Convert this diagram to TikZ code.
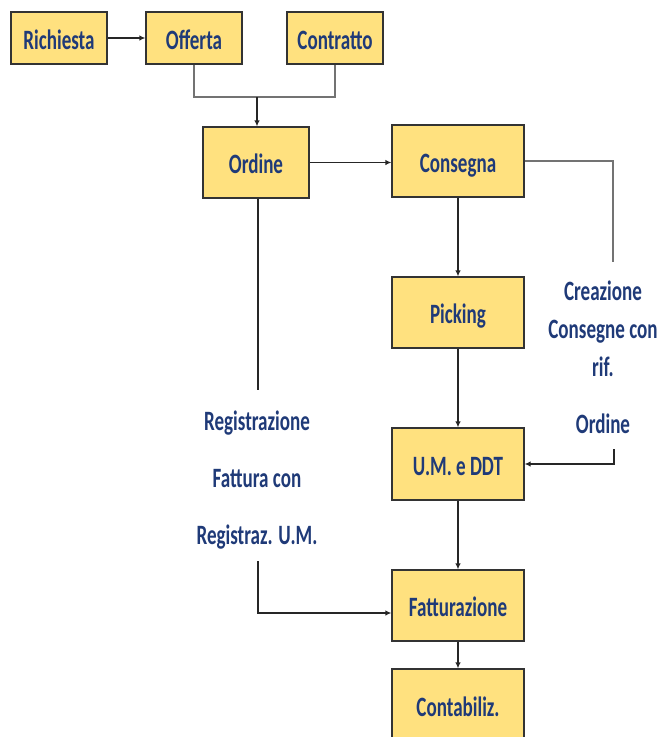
\documentclass[tikz,border=0pt]{standalone}
\usepackage{fontspec}
\setmainfont{Carlito}[FakeStretch=0.68]
\usetikzlibrary{arrows.meta}
\definecolor{boxfill}{HTML}{FFE17F}
\definecolor{txtblue}{HTML}{1F3A78}
\begin{document}
\begin{tikzpicture}[x=1pt,y=-1pt,
  box/.style={draw=black!80, line width=1.2pt, fill=boxfill, text=txtblue,
    font=\fontsize{28}{38}\selectfont\bfseries, inner sep=0pt,
    text height=22pt, text depth=0pt},
  lbl/.style={text=txtblue, font=\fontsize{28}{38}\selectfont\bfseries, align=center, inner sep=0pt},
  arr/.style={draw=black!85, line width=1.2pt, -{Latex[length=6pt,width=5.5pt]}},
  ln/.style={draw=black!85, line width=1.2pt},
  gln/.style={draw=black!55, line width=1.6pt}]
\clip (0,0) rectangle (664,737);
\fill[white] (0,0) rectangle (664,737);
% boxes
\node[box, minimum width=96pt, minimum height=52pt] (ric) at (59,38) {Richiesta};
\node[box, minimum width=96pt, minimum height=52pt] (off) at (194,38) {Offerta};
\node[box, minimum width=96pt, minimum height=52pt] (con) at (335,38) {Contratto};
\node[box, minimum width=106pt, minimum height=71pt] (ord) at (256,162.5) {Ordine};
\node[box, minimum width=132pt, minimum height=72pt] (cons) at (458,161) {Consegna};
\node[box, minimum width=132pt, minimum height=71pt] (pick) at (458,312.5) {Picking};
\node[box, minimum width=132pt, minimum height=72pt] (um) at (458,464) {U.M. e DDT};
\node[box, minimum width=132pt, minimum height=71pt] (fatt) at (458,605.5) {Fatturazione};
\node[box, minimum width=132pt, minimum height=72pt] (cont) at (458,705) {Contabiliz.};
% labels
\node[lbl] (crea) at (603,357) {Creazione\\Consegne con\\rif.\\[19pt]Ordine};
\node[lbl] (reg) at (257,480) {Registrazione\\[19pt]Fattura con\\[19pt]Registraz. U.M.};
% coordinates
\coordinate (merge) at (257,97);
\coordinate (cr1) at (613,262);
\coordinate (cr2) at (614,449);
\coordinate (rg1) at (258,390);
\coordinate (rg2) at (258,561);
% connectors
\draw[arr] (ric.east) -- (off.west);
\draw[gln] (off.south) |- (merge) -| (con.south);
\draw[arr] (merge) -- (merge |- ord.north);
\draw[arr] (ord.east) -- (ord.east -| cons.west);
\draw[gln] (cons.east) -| (cr1);
\draw[ln] (ord.south -| rg1) -- (rg1);
\draw[arr] (cons.south) -- (pick.north);
\draw[arr] (pick.south) -- (um.north);
\draw[arr] (cr2) |- (um.east);
\draw[arr] (um.south) -- (fatt.north);
\draw[arr] (rg2) |- ([yshift=-7.5pt]fatt.west);
\draw[arr] (fatt.south) -- (cont.north);
\end{tikzpicture}
\end{document}
